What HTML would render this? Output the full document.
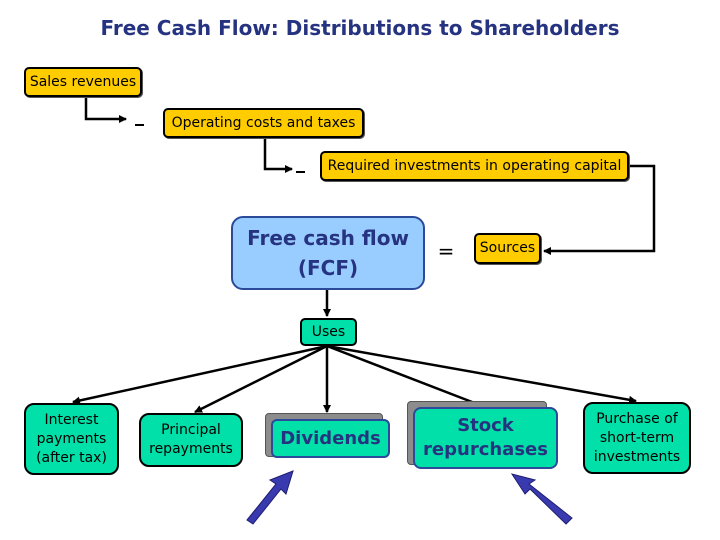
<!DOCTYPE html>
<html><head><style>
body{margin:0;width:720px;height:540px;background:#fff;position:relative;overflow:hidden;font-family:"DejaVu Sans","Liberation Sans",sans-serif}
.b{position:absolute;box-sizing:border-box;border:2px solid #000;display:flex;align-items:center;justify-content:center;text-align:center;color:#000;font-size:14px;line-height:19px}
.y{background:#FFCC00;border-radius:5px;box-shadow:1px 1px 0 #555}
.g{background:#00E0A8;border-radius:10px}
.s{position:absolute;background:#8c8c8c;border:1px solid #555;border-radius:4px}
.bl{color:#263380;font-weight:bold;border-color:#2b4a9a}
</style></head><body>
<div style="position:absolute;left:0;width:720px;top:16px;text-align:center;font-size:20px;font-weight:bold;color:#263380">Free Cash Flow: Distributions to Shareholders</div>
<svg width="720" height="540" style="position:absolute;left:0;top:0">
<defs><marker id="a" markerWidth="8" markerHeight="8" refX="7" refY="4" orient="auto" markerUnits="userSpaceOnUse"><path d="M0,0L8,4L0,8z" fill="#000"/></marker></defs>
<g stroke="#000" stroke-width="2.5" fill="none">
<path d="M86,97V119H126" marker-end="url(#a)"/>
<path d="M265,138V169H292" marker-end="url(#a)"/>
<path d="M629,166H654V251H544" marker-end="url(#a)"/>
<path d="M327,290V316" marker-end="url(#a)"/>
<path d="M327,346L73,402" marker-end="url(#a)"/>
<path d="M327,346L195,412" marker-end="url(#a)"/>
<path d="M327,346V412" marker-end="url(#a)"/>
<path d="M327,346L485,407" marker-end="url(#a)"/>
<path d="M327,346L636,401" marker-end="url(#a)"/>
</g>
<g fill="#000"><rect x="135" y="124" width="9" height="2"/><rect x="296" y="171" width="9" height="2"/></g>
<g fill="#3a3ab0" stroke="#1e1e70" stroke-width="1">
<path d="M247,520L276,484L270,480L293,471L286,494L281,489L253,524Z"/>
<path d="M566,524L530,489L525,494L512,474L535,480L529,484L572,518Z"/>
</g>
<text x="446" y="258" font-size="20" text-anchor="middle" font-family="DejaVu Sans">=</text>
</svg>
<div class="b y" style="left:24px;top:67px;width:118px;height:30px">Sales revenues</div>
<div class="b y" style="left:163px;top:108px;width:201px;height:30px">Operating costs and taxes</div>
<div class="b y" style="left:320px;top:151px;width:309px;height:30px">Required investments in operating capital</div>
<div class="b" style="left:231px;top:216px;width:194px;height:74px;background:#99CCFF;border-color:#2b4a9a;border-radius:12px;font-size:20px;line-height:30px;font-weight:bold;color:#263380">Free cash flow<br>(FCF)</div>
<div class="b y" style="left:474px;top:233px;width:67px;height:31px">Sources</div>
<div class="b g" style="left:300px;top:318px;width:57px;height:28px;border-radius:5px">Uses</div>
<div class="b g" style="left:24px;top:403px;width:95px;height:72px">Interest<br>payments<br>(after tax)</div>
<div class="b g" style="left:139px;top:413px;width:104px;height:54px">Principal<br>repayments</div>
<div class="s" style="left:265px;top:413px;width:116px;height:42px"></div>
<div class="b g bl" style="left:271px;top:419px;width:119px;height:39px;font-size:18px;border-radius:6px">Dividends</div>
<div class="s" style="left:407px;top:401px;width:138px;height:62px"></div>
<div class="b g bl" style="left:413px;top:407px;width:145px;height:62px;font-size:18px;line-height:24px;border-radius:8px">Stock<br>repurchases</div>
<div class="b g" style="left:583px;top:402px;width:108px;height:72px">Purchase of<br>short-term<br>investments</div>
</body></html>
